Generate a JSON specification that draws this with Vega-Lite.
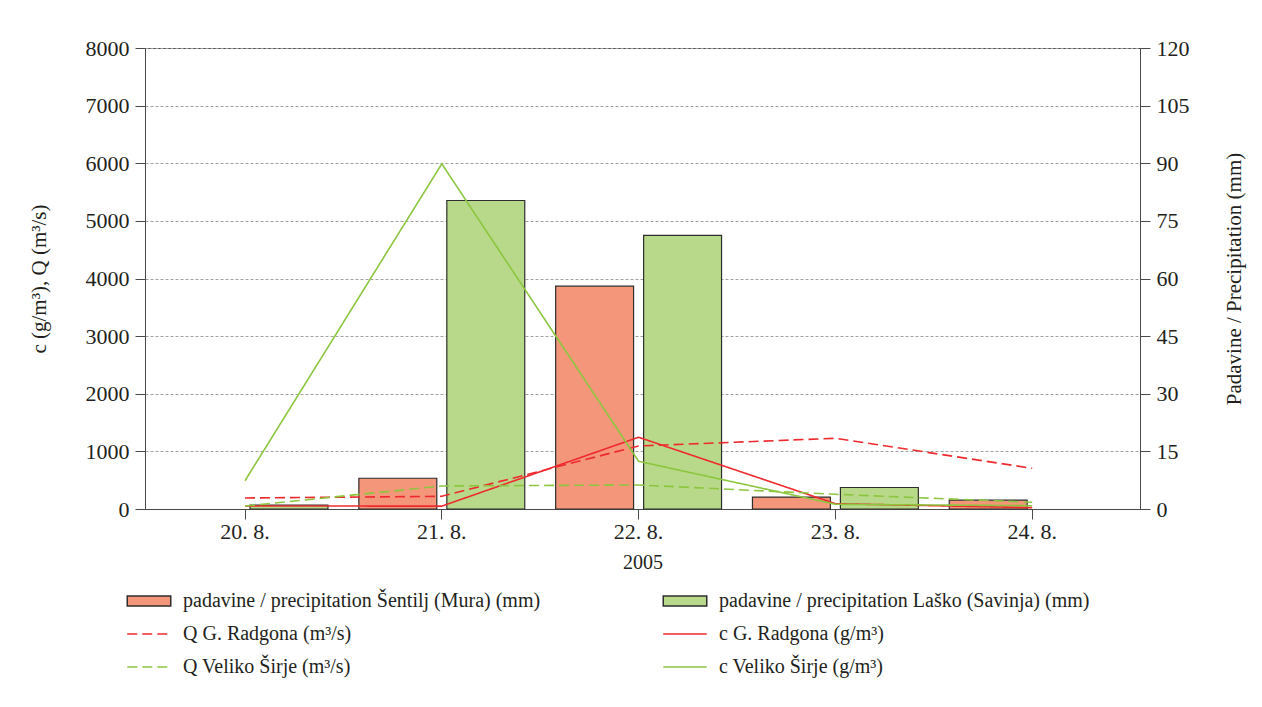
{
  "$schema": "https://vega.github.io/schema/vega-lite/v6.json",
  "width": 995,
  "height": 461,
  "autosize": {"type": "none"},
  "padding": {"left": 145, "top": 48, "right": 122, "bottom": 198},
  "background": "white",
  "config": {
    "font": "Liberation Serif",
    "view": {"stroke": "#4a4a4a", "strokeWidth": 1},
    "axis": {
      "labelFont": "Liberation Serif",
      "titleFont": "Liberation Serif",
      "labelFontSize": 22,
      "titleFontSize": 21,
      "titleFontWeight": "normal",
      "labelColor": "#231f20",
      "titleColor": "#231f20",
      "domainColor": "#4a4a4a",
      "tickColor": "#4a4a4a",
      "tickSize": 10,
      "labelPadding": 6
    },
    "legend": {
      "labelFont": "Liberation Serif",
      "labelFontSize": 20,
      "labelColor": "#231f20"
    }
  },
  "data": {
    "values": [
      {"date": "20. 8.", "kind": "bar", "series": "padavine / precipitation Laško (Savinja) (mm)", "value": 1.0},
      {"date": "21. 8.", "kind": "bar", "series": "padavine / precipitation Šentilj (Mura) (mm)", "value": 8.0},
      {"date": "21. 8.", "kind": "bar", "series": "padavine / precipitation Laško (Savinja) (mm)", "value": 80.3},
      {"date": "22. 8.", "kind": "bar", "series": "padavine / precipitation Šentilj (Mura) (mm)", "value": 58.0},
      {"date": "22. 8.", "kind": "bar", "series": "padavine / precipitation Laško (Savinja) (mm)", "value": 71.2},
      {"date": "23. 8.", "kind": "bar", "series": "padavine / precipitation Šentilj (Mura) (mm)", "value": 3.1},
      {"date": "23. 8.", "kind": "bar", "series": "padavine / precipitation Laško (Savinja) (mm)", "value": 5.6},
      {"date": "24. 8.", "kind": "bar", "series": "padavine / precipitation Šentilj (Mura) (mm)", "value": 2.3},

      {"date": "20. 8.", "kind": "line", "series": "Q G. Radgona (m³/s)", "value": 191},
      {"date": "21. 8.", "kind": "line", "series": "Q G. Radgona (m³/s)", "value": 220},
      {"date": "22. 8.", "kind": "line", "series": "Q G. Radgona (m³/s)", "value": 1094},
      {"date": "23. 8.", "kind": "line", "series": "Q G. Radgona (m³/s)", "value": 1227},
      {"date": "24. 8.", "kind": "line", "series": "Q G. Radgona (m³/s)", "value": 706},

      {"date": "20. 8.", "kind": "line", "series": "c G. Radgona (g/m³)", "value": 52},
      {"date": "21. 8.", "kind": "line", "series": "c G. Radgona (g/m³)", "value": 50},
      {"date": "22. 8.", "kind": "line", "series": "c G. Radgona (g/m³)", "value": 1245},
      {"date": "23. 8.", "kind": "line", "series": "c G. Radgona (g/m³)", "value": 92},
      {"date": "24. 8.", "kind": "line", "series": "c G. Radgona (g/m³)", "value": 23},

      {"date": "20. 8.", "kind": "line", "series": "Q Veliko Širje (m³/s)", "value": 52},
      {"date": "21. 8.", "kind": "line", "series": "Q Veliko Širje (m³/s)", "value": 399},
      {"date": "22. 8.", "kind": "line", "series": "Q Veliko Širje (m³/s)", "value": 417},
      {"date": "23. 8.", "kind": "line", "series": "Q Veliko Širje (m³/s)", "value": 255},
      {"date": "24. 8.", "kind": "line", "series": "Q Veliko Širje (m³/s)", "value": 116},

      {"date": "20. 8.", "kind": "line", "series": "c Veliko Širje (g/m³)", "value": 491},
      {"date": "21. 8.", "kind": "line", "series": "c Veliko Širje (g/m³)", "value": 5990},
      {"date": "22. 8.", "kind": "line", "series": "c Veliko Širje (g/m³)", "value": 828},
      {"date": "23. 8.", "kind": "line", "series": "c Veliko Širje (g/m³)", "value": 82},
      {"date": "24. 8.", "kind": "line", "series": "c Veliko Širje (g/m³)", "value": 57}
    ]
  },
  "encoding": {
    "x": {
      "field": "date",
      "type": "nominal",
      "scale": {
        "domain": ["20. 8.", "21. 8.", "22. 8.", "23. 8.", "24. 8."],
        "paddingInner": 0.157,
        "paddingOuter": 0.1065,
        "align": 0.407
      },
      "axis": {"title": "2005", "labelAngle": 0, "labelPadding": 2, "titlePadding": 10, "grid": false, "titleFontSize": 20}
    }
  },
  "layer": [
    {
      "transform": [{"filter": "datum.kind == 'bar'"}],
      "mark": {"type": "bar", "strokeWidth": 1.2},
      "encoding": {
        "xOffset": {
          "field": "series",
          "type": "nominal",
          "scale": {
            "domain": ["padavine / precipitation Šentilj (Mura) (mm)", "padavine / precipitation Laško (Savinja) (mm)"],
            "paddingInner": 0.114,
            "paddingOuter": 0
          }
        },
        "y": {
          "field": "value",
          "type": "quantitative",
          "scale": {"domain": [0, 120], "nice": false},
          "axis": {
            "orient": "right",
            "title": "Padavine / Precipitation (mm)",
            "titleAngle": 270,
            "values": [0, 15, 30, 45, 60, 75, 90, 105, 120],
            "format": "d",
            "grid": false,
            "titlePadding": 55
          }
        },
        "fill": {
          "field": "series",
          "type": "nominal",
          "scale": {
            "domain": [
              "padavine / precipitation Šentilj (Mura) (mm)",
              "padavine / precipitation Laško (Savinja) (mm)",
              "Q G. Radgona (m³/s)",
              "c G. Radgona (g/m³)",
              "Q Veliko Širje (m³/s)",
              "c Veliko Širje (g/m³)"
            ],
            "range": ["#f4967a", "#b9d98a", "transparent", "transparent", "transparent", "transparent"]
          },
          "legend": {
            "title": null,
            "orient": "none",
            "direction": "horizontal",
            "legendX": -6,
            "legendY": 543,
            "columns": 2,
            "columnPadding": 119,
            "rowPadding": 13,
            "padding": 0,
            "symbolSize": 225,
            "symbolStrokeWidth": 1.5,
            "symbolOpacity": 1,
            "labelOffset": 24,
            "labelLimit": 600
          }
        },
        "stroke": {
          "field": "series",
          "type": "nominal",
          "scale": {
            "domain": [
              "padavine / precipitation Šentilj (Mura) (mm)",
              "padavine / precipitation Laško (Savinja) (mm)",
              "Q G. Radgona (m³/s)",
              "c G. Radgona (g/m³)",
              "Q Veliko Širje (m³/s)",
              "c Veliko Širje (g/m³)"
            ],
            "range": ["#2e2e2e", "#2e2e2e", "#ee2a2e", "#ee2a2e", "#8cc63f", "#8cc63f"]
          },
          "legend": {"title": null}
        }
      }
    },
    {
      "transform": [{"filter": "datum.kind == 'line'"}],
      "mark": {"type": "line", "strokeWidth": 1.6},
      "encoding": {
        "y": {
          "field": "value",
          "type": "quantitative",
          "scale": {"domain": [0, 8000], "nice": false},
          "axis": {
            "orient": "left",
            "title": "c (g/m³), Q (m³/s)",
            "values": [0, 1000, 2000, 3000, 4000, 5000, 6000, 7000, 8000],
            "format": "d",
            "grid": true,
            "gridColor": "#a0a0a0",
            "gridDash": [3, 2],
            "gridWidth": 1,
            "titlePadding": 36
          }
        },
        "stroke": {"field": "series", "type": "nominal", "legend": {"title": null}},
        "strokeDash": {
          "field": "series",
          "type": "nominal",
          "scale": {
            "domain": [
              "padavine / precipitation Šentilj (Mura) (mm)",
              "padavine / precipitation Laško (Savinja) (mm)",
              "Q G. Radgona (m³/s)",
              "c G. Radgona (g/m³)",
              "Q Veliko Širje (m³/s)",
              "c Veliko Širje (g/m³)"
            ],
            "range": [[1, 0], [1, 0], [10, 5], [1, 0], [10, 5], [1, 0]]
          },
          "legend": {"title": null}
        }
      }
    },
    {
      "transform": [{"filter": "datum.kind == 'none'"}],
      "mark": {"type": "point"},
      "encoding": {
        "shape": {
          "field": "series",
          "type": "nominal",
          "scale": {
            "domain": [
              "padavine / precipitation Šentilj (Mura) (mm)",
              "padavine / precipitation Laško (Savinja) (mm)",
              "Q G. Radgona (m³/s)",
              "c G. Radgona (g/m³)",
              "Q Veliko Širje (m³/s)",
              "c Veliko Širje (g/m³)"
            ],
            "range": ["M-2.9,-0.67H2.9V0.67H-2.9Z", "M-2.9,-0.67H2.9V0.67H-2.9Z", "M-2.9,0H2.9", "M-2.9,0H2.9", "M-2.9,0H2.9", "M-2.9,0H2.9"]
          },
          "legend": {"title": null}
        }
      }
    }
  ],
  "resolve": {"scale": {"y": "independent"}}
}
